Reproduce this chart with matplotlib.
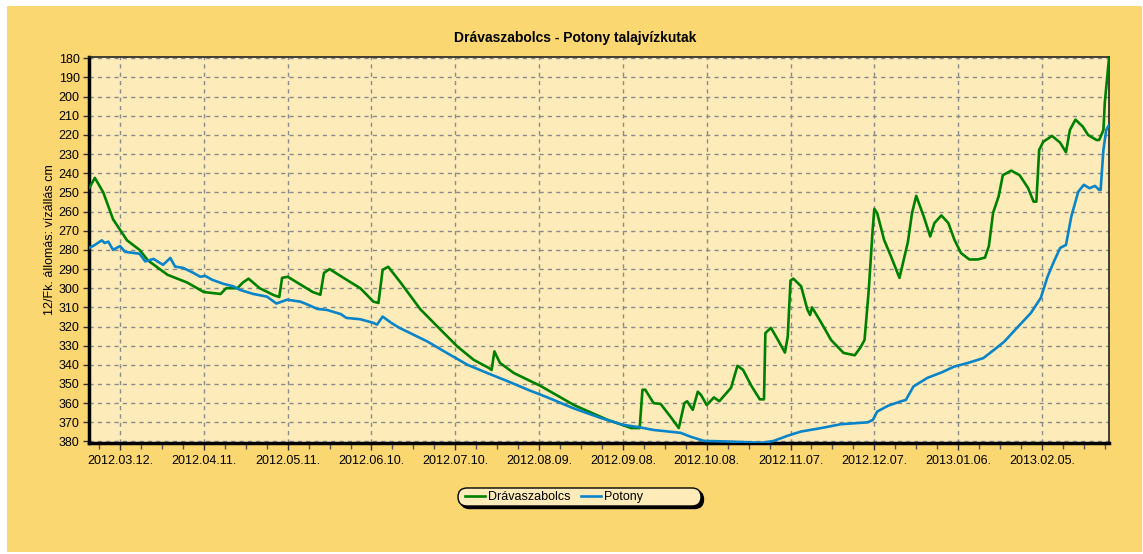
import datetime as dt
import matplotlib
matplotlib.use('Agg')
import matplotlib.pyplot as plt
import matplotlib.dates as mdates
from matplotlib.patches import Rectangle, FancyBboxPatch
from matplotlib.transforms import IdentityTransform

plt.rcParams['font.family'] = ['Liberation Sans', 'DejaVu Sans']

# Data (day offset from 2012-03-01, water level in cm)
start_date = dt.date(2012, 3, 1)

drava_days = [0, 2, 5, 8.5, 13.5, 18, 21, 28, 35, 41, 47, 49, 53, 55, 57, 61, 66, 68, 69, 71,
              75.5, 80, 82.7, 84, 86, 91, 97, 101.7, 103.5, 105, 107, 111.4, 118.5, 125.7,
              131.8, 137.6, 143, 144, 145, 147, 152, 161.5, 173.5, 185.5, 194, 197, 198, 199,
              202, 204.5, 208, 211, 213, 214, 216, 217.8, 219, 221, 223.6, 225.5, 229.7, 232,
              234, 237, 240, 241.5, 242, 244, 246.5, 249, 250, 251, 252, 254.8, 257, 258,
              258.7, 262, 265.5, 270, 274, 276, 277.5, 279, 280.4, 281, 282, 284.5, 287, 290,
              293, 294.5, 296, 298.7, 301, 302.5, 305, 307.5, 309.7, 312, 315, 318, 320.6,
              322, 323.5, 325.5, 327, 330, 333, 336, 338, 339, 340, 341.5, 344.6, 347.5,
              349.6, 351, 353, 355.6, 357.5, 360.5, 361.5, 363, 363.5, 365]
drava_vals = [247.6, 242.4, 250, 264, 275, 280, 285.5, 293, 297, 302, 303, 300, 300, 297, 295,
              300, 303.6, 304.6, 294.6, 294, 298, 302, 303.4, 292, 290, 294.6, 300, 307, 307.7,
              290.4, 288.8, 297, 311, 321.6, 330.5, 337.4, 341.6, 342.7, 333, 339, 344.3, 351,
              361, 368.7, 373, 373, 353, 353, 360, 360.4, 367, 373, 360, 359, 363.5, 354,
              355.8, 361, 357, 359, 352, 340.5, 342.6, 351, 358, 358, 323.4, 320.7, 327, 333.6,
              325.3, 296, 295, 299, 311, 314, 310, 318, 327, 333.8, 335, 331, 327, 301, 269.5,
              258.6, 260.7, 274.8, 283.5, 294.6, 276, 260.7, 251.8, 262.6, 273, 266, 262, 266,
              274.8, 281.6, 285, 285, 284, 278, 260.7, 252, 241, 238.6, 241, 247.6, 254.8,
              254.8, 227.8, 223.5, 220.5, 224, 229, 217.4, 212, 215.6, 220, 222.6, 222.6,
              217.4, 203, 180]

potony_days = [0, 2, 4.5, 5.5, 6.8, 8.5, 11, 12.8, 18, 20, 23, 26.4, 29, 30.7, 33.6, 37, 39.7,
               41.5, 44, 48, 51.5, 54, 58.7, 63.6, 67, 70.8, 75.5, 78.4, 81.6, 85, 90, 92, 97,
               101.5, 103, 105, 108, 111, 113.7, 121, 128, 135.4, 142.5, 150, 157, 164, 173,
               183, 191, 197, 202, 211.7, 215, 220, 228, 241, 245, 250, 254.8, 262, 269,
               278.7, 280.5, 282, 286, 290.6, 292.3, 295, 300, 305, 309.6, 314.5, 320, 324,
               327.5, 332.5, 337, 340.6, 343, 345, 347.5, 349.6, 351.5, 354, 356, 358, 360,
               361.5, 362, 363, 364, 365]
potony_vals = [279, 277.4, 275, 276.4, 275.7, 280, 278, 281, 282, 286, 284.7, 287.8, 284.2,
               288.7, 289.4, 291.8, 294, 293.6, 295.6, 297.7, 299, 300.9, 303, 304.4, 308, 306,
               307, 308.7, 310.8, 311.3, 313.5, 315.5, 316.2, 318, 319, 314.8, 318, 320.7,
               322.6, 327.8, 333.8, 340, 344.3, 348.7, 353, 357, 362.5, 367.7, 371.3, 372.6,
               374, 375.5, 377.4, 379.7, 380, 380.7, 379.7, 377, 374.8, 373, 371, 370, 368.7,
               364.4, 361.3, 359, 358.3, 351.3, 346.8, 344, 340.9, 339, 336.5, 332, 327.9, 320,
               313, 305, 294, 287, 279, 277.4, 262.6, 249.6, 246, 247.8, 246.6, 248.7, 248.7,
               227.8, 217.4, 214.8]

y_ticks = list(range(180, 381, 10))

to_date = lambda d: dt.datetime.combine(start_date, dt.time()) + dt.timedelta(days=d)
drava_x = [to_date(d) for d in drava_days]
potony_x = [to_date(d) for d in potony_days]

W, H = 1143, 554
fig = plt.figure(figsize=(W / 100, H / 100), dpi=100, facecolor='white')
fig.patches.append(Rectangle((7 / W, 2 / H), 1135 / W, 546 / H,
                             transform=fig.transFigure, facecolor='#FAD770',
                             edgecolor='none', zorder=-10))

ax = fig.add_axes([89.3 / W, 1 - 443 / H, (1109 - 89.3) / W, (443 - 57) / H])
ax.set_facecolor('#FDECB9')

ax.plot(drava_x, drava_vals, color='#008000', lw=1.9, label='Drávaszabolcs', zorder=3)
ax.plot(potony_x, potony_vals, color='#0A84C8', lw=1.9, label='Potony', zorder=3)

ax.set_xlim(to_date(0), to_date(365))
ax.set_ylim(380.8, 179.3)
ax.set_yticks(y_ticks)

major = [to_date(11 + 30 * k) for k in range(12)]
minor = [to_date(11 + 7.5 * k) for k in range(-1, 48) if 0 < 11 + 7.5 * k < 365]
ax.xaxis.set_major_locator(matplotlib.ticker.FixedLocator(mdates.date2num(major)))
ax.xaxis.set_minor_locator(matplotlib.ticker.FixedLocator(mdates.date2num(minor)))
ax.xaxis.set_major_formatter(mdates.DateFormatter('%Y.%m.%d.'))

ax.tick_params(axis='both', which='major', direction='out', length=4, width=1,
               labelsize=9, color='#333333', pad=3)
ax.tick_params(axis='x', which='minor', direction='out', length=4, width=1, color='#555555')
ax.tick_params(axis='x', which='major', length=5, pad=4)

ax.grid(True, which='major', color='#8A8A8A', linestyle=(0, (3, 3)), linewidth=1)
ax.set_axisbelow(True)

for side in ['left', 'bottom']:
    ax.spines[side].set_linewidth(2.5)
    ax.spines[side].set_color('black')
for side in ['top', 'right']:
    ax.spines[side].set_linewidth(1.2)
    ax.spines[side].set_color('#222222')

fig.text(575 / W, 1 - 38 / H, 'Drávaszabolcs - Potony talajvízkutak',
         ha='center', va='center', fontsize=10, fontweight='bold')
fig.text(50 / W, 1 - 240 / H, '12/Fk. állomás: vízállás cm', rotation=90,
         ha='center', va='center', fontsize=9)

# legend box (pill shape with black drop shadow), drawn in pixel coordinates
bx0, bx1, by0, by1 = 458, 701, H - 506, H - 488
for dx, dy, fc in [(2.5, -2.5, 'black'), (0, 0, '#FDECB9')]:
    fig.patches.append(FancyBboxPatch((bx0 + dx, by0 + dy), bx1 - bx0, by1 - by0,
                                      boxstyle='round,pad=0,rounding_size=9',
                                      transform=IdentityTransform(), facecolor=fc,
                                      edgecolor='black', linewidth=1, zorder=5))

leg = fig.legend(loc='center left', bbox_to_anchor=(465 / W, 1 - 497 / H), ncol=2,
                 fontsize=9, frameon=False, handlelength=1.6, handletextpad=0.25,
                 columnspacing=0.8, borderpad=0, borderaxespad=0)
leg.set_zorder(6)

fig.savefig('out.png', dpi=100, facecolor=fig.get_facecolor())
